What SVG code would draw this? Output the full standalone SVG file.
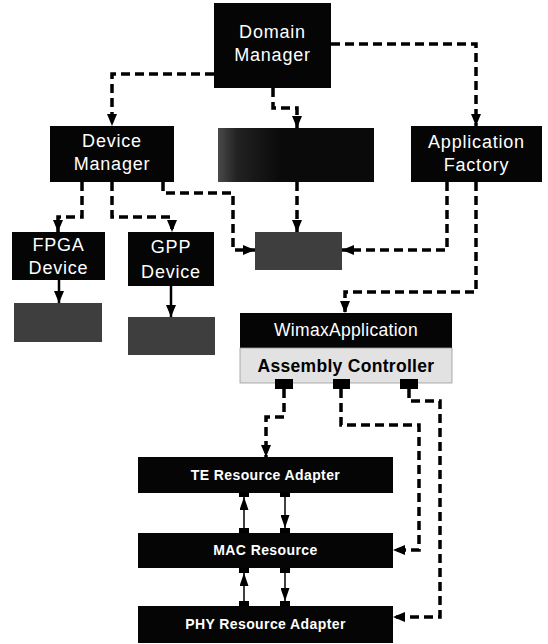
<svg xmlns="http://www.w3.org/2000/svg" width="548" height="644" viewBox="0 0 548 644">
<style>
.box{fill:#050505}
.gray{fill:#3e3e3e}
.wt{fill:#fff;font-family:"Liberation Sans",Arial,sans-serif;font-size:18px;letter-spacing:0.8px;text-anchor:middle}
.bt{fill:#fff;font-family:"Liberation Sans",Arial,sans-serif;font-size:14px;font-weight:bold;letter-spacing:0.4px;text-anchor:middle}
.dash{fill:none;stroke:#000;stroke-width:3.5;stroke-dasharray:9 5}
.solid{fill:none;stroke:#000;stroke-width:2.5}
.thin{fill:none;stroke:#000;stroke-width:1.5}
</style>
<defs>
<marker id="ah" viewBox="0 0 12 10" refX="12" refY="5" markerWidth="12" markerHeight="10" orient="auto" markerUnits="userSpaceOnUse">
<path d="M0,0 L12,5 L0,10 Z" fill="#000" stroke="none"/>
</marker>
<marker id="ahs" viewBox="0 0 13 9" refX="13" refY="4.5" markerWidth="13" markerHeight="9" orient="auto" markerUnits="userSpaceOnUse">
<path d="M0,0 L13,4.5 L0,9 Z" fill="#000" stroke="none"/>
</marker>
<linearGradient id="gmid" x1="0" y1="0" x2="1" y2="0">
<stop offset="0" stop-color="#4a4a4a"/>
<stop offset="0.12" stop-color="#222"/>
<stop offset="0.4" stop-color="#0a0a0a"/>
<stop offset="1" stop-color="#0a0a0a"/>
</linearGradient>
</defs>

<g id="connectors">
<path class="dash" d="M214 74 H112 V126" marker-end="url(#ah)"/>
<path class="dash" d="M273 88 V108 H297 V128" marker-end="url(#ah)"/>
<path class="dash" d="M331 44 H476 V126" marker-end="url(#ah)"/>
<path class="dash" d="M82 182 V217 H58 V232" marker-end="url(#ah)"/>
<path class="dash" d="M112 182 V217 H172 V232" marker-end="url(#ah)"/>
<path class="dash" d="M163 182 V193 H233 V250 H255" marker-end="url(#ah)"/>
<path class="dash" d="M297 182 V232" marker-end="url(#ah)"/>
<path class="dash" d="M447 182 V250 H342" marker-end="url(#ah)"/>
<path class="dash" d="M476 182 V292 H345 V313" marker-end="url(#ah)"/>
<path class="solid" d="M59 280 V303" marker-end="url(#ah)"/>
<path class="solid" d="M171 286 V317" marker-end="url(#ah)"/>
<path class="dash" d="M284 389 V417 H266 V457" marker-end="url(#ah)"/>
<path class="dash" d="M341 389 V425 H419 V550 H393" marker-end="url(#ah)"/>
<path class="dash" d="M409 389 V401 H440 V617 H393" marker-end="url(#ah)"/>
<path class="thin" d="M244 528 V497" marker-end="url(#ahs)"/>
<path class="thin" d="M285 497 V528" marker-end="url(#ahs)"/>
<path class="thin" d="M244 601 V573" marker-end="url(#ahs)"/>
<path class="thin" d="M285 573 V601" marker-end="url(#ahs)"/>
</g>

<g id="domain-manager">
<rect class="box" x="214" y="3" width="117" height="85"/>
<text class="wt" x="272.5" y="38">Domain</text>
<text class="wt" x="272.5" y="61">Manager</text>
</g>

<g id="device-manager">
<rect class="box" x="50" y="126" width="124" height="56"/>
<text class="wt" x="112" y="147">Device</text>
<text class="wt" x="112" y="170">Manager</text>
</g>

<g id="middle-service">
<rect x="218" y="128" width="156" height="54" fill="url(#gmid)"/>
</g>

<g id="application-factory">
<rect class="box" x="411" y="126" width="131" height="56"/>
<text class="wt" x="476.5" y="148">Application</text>
<text class="wt" x="476.5" y="171">Factory</text>
</g>

<g id="fpga-device">
<rect class="box" x="12" y="232" width="93" height="48"/>
<text class="wt" x="58.5" y="251">FPGA</text>
<text class="wt" x="58.5" y="274">Device</text>
</g>

<g id="gpp-device">
<rect class="box" x="128" y="232" width="86" height="54"/>
<text class="wt" x="171" y="253">GPP</text>
<text class="wt" x="171" y="278">Device</text>
</g>

<g id="fpga-store">
<rect class="gray" x="14" y="303" width="88" height="39"/>
</g>

<g id="gpp-store">
<rect class="gray" x="128" y="317" width="87" height="38"/>
</g>

<g id="middle-store">
<rect class="gray" x="255" y="232" width="87" height="38"/>
</g>

<g id="wimax-application">
<rect class="box" x="240" y="313" width="212" height="35"/>
<text x="346" y="336" fill="#fff" font-family="Liberation Sans, Arial, sans-serif" font-size="17.5" letter-spacing="0.3" text-anchor="middle">WimaxApplication</text>
<rect x="240" y="348" width="212" height="35" fill="#e2e2e2" stroke="#999" stroke-width="0.8"/>
<text x="346" y="372" fill="#000" font-family="Liberation Sans, Arial, sans-serif" font-size="17.5" font-weight="bold" letter-spacing="0.3" text-anchor="middle">Assembly Controller</text>
<rect x="275" y="379" width="18" height="10" fill="#000"/>
<rect x="333" y="379" width="17" height="10" fill="#000"/>
<rect x="400" y="379" width="18" height="10" fill="#000"/>
</g>

<g id="te-resource-adapter">
<rect class="box" x="138" y="457" width="255" height="36"/>
<text class="bt" x="265.5" y="480">TE Resource Adapter</text>
<rect x="239" y="492" width="10" height="5" fill="#000"/>
<rect x="280" y="492" width="10" height="5" fill="#000"/>
</g>

<g id="mac-resource">
<rect class="box" x="138" y="533" width="255" height="35"/>
<text class="bt" x="265.5" y="555">MAC Resource</text>
<rect x="239" y="528" width="10" height="5" fill="#000"/>
<rect x="280" y="528" width="10" height="5" fill="#000"/>
<rect x="239" y="568" width="10" height="5" fill="#000"/>
<rect x="280" y="568" width="10" height="5" fill="#000"/>
</g>

<g id="phy-resource-adapter">
<rect class="box" x="138" y="606" width="255" height="37"/>
<text class="bt" x="265.5" y="629">PHY Resource Adapter</text>
<rect x="239" y="601" width="10" height="5" fill="#000"/>
<rect x="280" y="601" width="10" height="5" fill="#000"/>
</g>
</svg>
